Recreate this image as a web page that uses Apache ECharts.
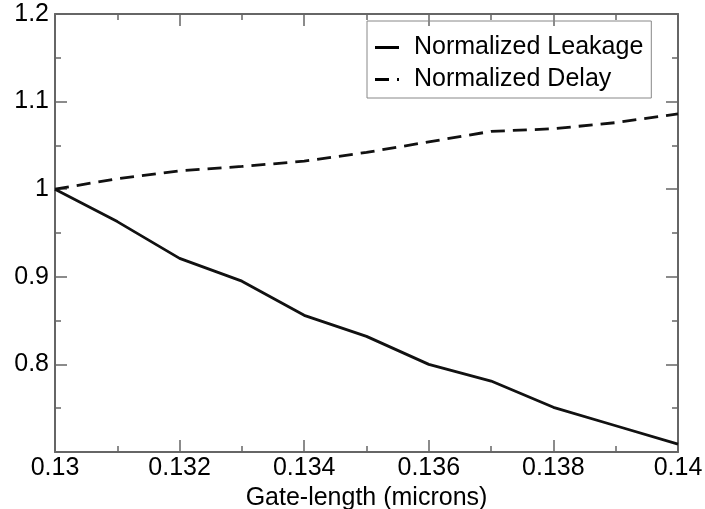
<!DOCTYPE html>
<html>
    <head>
        <meta charset="utf-8">
        <title>Normalized Leakage / Delay</title>
        <style>
            html, body { margin: 0; padding: 0; background: #fff; }
            #chart1 { width: 705px; height: 509px; }
        </style>
    </head>
    <body>
        <div id="chart1"></div>
    </body>
    <script src="https://cdn.jsdelivr.net/npm/echarts@6/dist/echarts.min.js"></script>
    <script type="text/javascript">
        // data
        let gateLength = [0.130, 0.131, 0.132, 0.133, 0.134, 0.135, 0.136, 0.137, 0.138, 0.139, 0.140];
        let leakage = [1.000, 0.963, 0.921, 0.895, 0.856, 0.832, 0.800, 0.781, 0.751, 0.730, 0.709];
        let delay = [1.000, 1.012, 1.021, 1.026, 1.032, 1.042, 1.054, 1.066, 1.069, 1.076, 1.086];
        let seriesNames = ['Normalized Leakage', 'Normalized Delay'];
        let xTicks = {min: 0.13, max: 0.14, step: 0.002};
        let yTicks = {min: 0.7, max: 1.2, step: 0.1};

        let font = '"Liberation Sans", Arial, sans-serif';
        let frame = '#666';
        let fs = 25;

        let myChart1 = echarts.init(document.getElementById('chart1'));

        function pairs(ys) {
            return gateLength.map((x, i) => [x, ys[i]]);
        }

        // shared look for all four sides of the box
        function side(extra) {
            return Object.assign({
                type: 'value',
                axisLine: {show: true, onZero: false, lineStyle: {color: frame, width: 2}},
                axisTick: {show: true, inside: true, length: 12, lineStyle: {color: frame, width: 1.5}},
                minorTick: {show: true, splitNumber: 2, length: 6, lineStyle: {color: frame, width: 1.5}},
                splitLine: {show: false},
                minorSplitLine: {show: false}
            }, extra);
        }

        myChart1.setOption({
            animation: false,
            backgroundColor: '#fff',
            textStyle: {fontFamily: font},
            grid: {left: 55, right: 27, top: 14, bottom: 57, outerBoundsMode: 'none'},
            legend: {
                orient: 'vertical',
                left: 367,
                top: 21,
                padding: [14, 8, 6, 8],
                itemGap: 7,
                itemWidth: 24,
                itemHeight: 3,
                symbolKeepAspect: false,
                borderColor: '#888',
                borderWidth: 1,
                textStyle: {fontFamily: font, fontSize: fs, color: '#000', lineHeight: 25, padding: [0, 0, 0, 10]},
                data: [
                    {name: seriesNames[0], icon: 'path://M0,0 H24 V3 H0 Z'},
                    {name: seriesNames[1], icon: 'path://M0,0 H14 V3 H0 Z M22,0 H24 V3 H22 Z'}
                ]
            },
            xAxis: [
                side({
                    position: 'bottom',
                    min: xTicks.min, max: xTicks.max, interval: xTicks.step,
                    axisLabel: {color: '#000', fontSize: fs, fontFamily: font, margin: 4},
                    name: 'Gate-length (microns)',
                    nameLocation: 'middle',
                    nameGap: 32,
                    nameTextStyle: {color: '#000', fontSize: fs, fontFamily: font}
                }),
                side({
                    position: 'top',
                    min: xTicks.min, max: xTicks.max, interval: xTicks.step,
                    axisLabel: {show: false}
                })
            ],
            yAxis: [
                side({
                    position: 'left',
                    min: yTicks.min, max: yTicks.max, interval: yTicks.step,
                    axisLabel: {
                        color: '#000', fontSize: fs, fontFamily: font, margin: 6,
                        formatter: (v) => v < 0.75 ? '' : String(+v.toFixed(2))
                    }
                }),
                side({
                    position: 'right',
                    min: yTicks.min, max: yTicks.max, interval: yTicks.step,
                    axisLabel: {show: false}
                })
            ],
            series: [{
                name: seriesNames[0],
                type: 'line',
                data: pairs(leakage),
                showSymbol: false,
                symbol: 'none',
                itemStyle: {color: '#000'},
                lineStyle: {color: '#111', width: 2.8}
            }, {
                name: seriesNames[1],
                type: 'line',
                data: pairs(delay),
                showSymbol: false,
                symbol: 'none',
                itemStyle: {color: '#000'},
                lineStyle: {color: '#111', width: 2.8, type: [14, 8]}
            }]
        });
    </script>
</html>
